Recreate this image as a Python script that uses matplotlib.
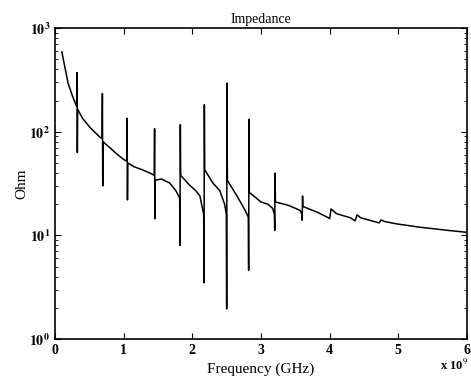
import matplotlib
matplotlib.use("Agg")
import matplotlib.pyplot as plt
from matplotlib.ticker import LogLocator, NullFormatter

# frequency (GHz) and impedance (Ohm), spikes included
freq = [0.10, 0.15, 0.19, 0.25, 0.30, 0.315, 0.32, 0.325, 0.33, 0.40, 0.51, 0.60, 0.66, 0.685, 0.69,
        0.695, 0.70, 0.80, 0.90, 1.00, 1.045, 1.05, 1.055, 1.06, 1.15, 1.27, 1.38, 1.445, 1.45,
        1.455, 1.46, 1.55, 1.67, 1.76, 1.815, 1.82, 1.825, 1.83, 1.95, 2.05, 2.11, 2.165, 2.17,
        2.175, 2.18, 2.30, 2.40, 2.47, 2.495, 2.50, 2.505, 2.51, 2.65, 2.77, 2.815, 2.82, 2.825,
        2.83, 3.00, 3.10, 3.17, 3.195, 3.20, 3.205, 3.21, 3.40, 3.57, 3.595, 3.60, 3.605, 3.61,
        3.83, 3.98, 4.00, 4.02, 4.10, 4.30, 4.37, 4.40, 4.45, 4.72, 4.75, 4.80, 4.98, 5.31,
        5.71, 6.00]
ohm = [589, 400, 295, 225, 185, 176, 372, 63, 165, 135, 110, 96, 88, 86, 234,
       30, 80, 70, 61, 54, 52, 135, 22, 50, 46, 43, 40, 38, 107,
       14.5, 34, 35, 32, 27, 23, 8, 117, 38, 31, 27, 24, 16, 3.5,
       182, 43, 32, 27, 20, 16, 1.95, 295, 34, 24, 17.4, 15, 4.6,
       132, 26, 21, 20, 18.2, 16, 11.2, 40, 21, 19.5, 17.4, 16, 14, 24, 19,
       16.6, 14.8, 14.5, 18, 16.2, 14.8, 13.8, 15.8, 14.8, 13.2, 14.1, 13.6, 12.9, 12.0,
       11.2, 10.7]

xticks = [0, 1, 2, 3, 4, 5, 6]
yticks = [1, 10, 100, 1000]

plt.rcParams['font.family'] = ['Liberation Serif', 'DejaVu Serif']
plt.rcParams['mathtext.fontset'] = 'stix'

fig = plt.figure(figsize=(4.71, 3.81), dpi=100)
ax = fig.add_axes([0.1168, 0.1102, 0.8747, 0.816])

ax.plot(freq, ohm, color='black', linewidth=1.1)
ax.set_yscale('log')
ax.set_xlim(0, 6)
ax.set_ylim(1, 1000)
ax.set_xticks(xticks)
ax.set_xticklabels([str(t) for t in xticks], fontsize=10, fontweight='bold')
ax.set_yticks(yticks)
ax.set_yticklabels([r'$\mathbf{10^{%d}}$' % e for e in range(4)], fontsize=10)
ax.yaxis.set_minor_locator(LogLocator(base=10, subs=range(2, 10)))
ax.yaxis.set_minor_formatter(NullFormatter())
ax.tick_params(which='both', direction='in', top=True, right=True)
ax.tick_params(which='major', length=4)
ax.tick_params(which='minor', length=2)
for s in ax.spines.values():
    s.set_linewidth(1.2)

ax.set_title('Impedance', fontsize=10, pad=4)
ax.set_xlabel('Frequency (GHz)', fontsize=11, labelpad=4)
ax.set_ylabel('Ohm', fontsize=11, labelpad=1)
fig.text(0.935, 0.03, r'x 10$^{9}$', fontsize=9, fontweight='bold')

fig.savefig('out.png', dpi=100)
